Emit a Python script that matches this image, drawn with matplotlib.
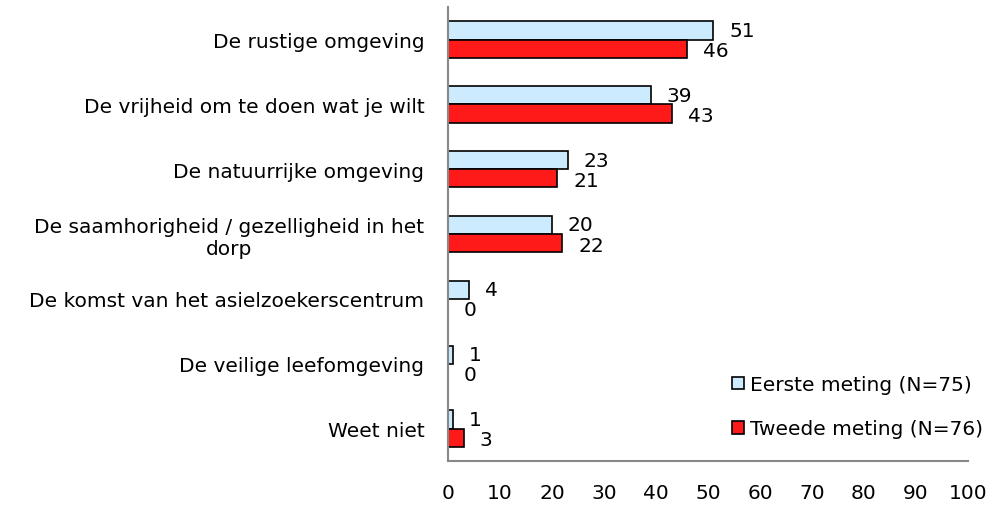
import matplotlib.pyplot as plt
import numpy as np

categories = [
    "De rustige omgeving",
    "De vrijheid om te doen wat je wilt",
    "De natuurrijke omgeving",
    "De saamhorigheid / gezelligheid in het\ndorp",
    "De komst van het asielzoekerscentrum",
    "De veilige leefomgeving",
    "Weet niet",
]
eerste = [51, 39, 23, 20, 4, 1, 1]
tweede = [46, 43, 21, 22, 0, 0, 3]
series_labels = ["Eerste meting (N=75)", "Tweede meting (N=76)"]
x_ticks = list(range(0, 101, 10))

COLOR_1 = "#CCEBFF"
COLOR_2 = "#FF1A1A"
FS = 14.5

plt.rcParams["font.family"] = ["DejaVu Sans"]

fig = plt.figure(figsize=(9.96, 5.06), dpi=100)
ax = fig.add_axes([0.4498, 0.087, 0.522, 0.897])

y = np.arange(len(categories))
h = 0.28
ax.barh(y - h / 2, eerste, height=h, color=COLOR_1, edgecolor="black",
        linewidth=1.2, label=series_labels[0])
ax.barh(y + h / 2, tweede, height=h, color=COLOR_2, edgecolor="black",
        linewidth=1.2, label=series_labels[1])

# value labels sit just right of each bar end
for yi, v in zip(y, eerste):
    ax.annotate(str(v), (v, yi - h / 2), xytext=(16, 0), textcoords="offset pixels",
                ha="left", va="center", fontsize=FS)
for yi, v in zip(y, tweede):
    ax.annotate(str(v), (v, yi + h / 2), xytext=(16, -2), textcoords="offset pixels",
                ha="left", va="center", fontsize=FS)

ax.set_xlim(0, 100)
ax.set_ylim(len(categories) - 0.5, -0.5)
ax.set_yticks(y)
ax.set_yticklabels(categories, fontsize=FS, multialignment="center")
ax.set_xticks(x_ticks)
ax.tick_params(axis="x", labelsize=FS, length=0, pad=16)
ax.tick_params(axis="y", length=0, pad=17)

for side in ["top", "right"]:
    ax.spines[side].set_visible(False)
for side in ["left", "bottom"]:
    ax.spines[side].set_color("#888888")
    ax.spines[side].set_linewidth(1.5)

ax.legend(loc="upper left", bbox_to_anchor=(0.546, 0.189), frameon=False, fontsize=FS,
          handlelength=0.6, handleheight=0.6, handletextpad=0.3, labelspacing=1.25,
          borderpad=0, borderaxespad=0)

fig.savefig("out.png", dpi=100)
